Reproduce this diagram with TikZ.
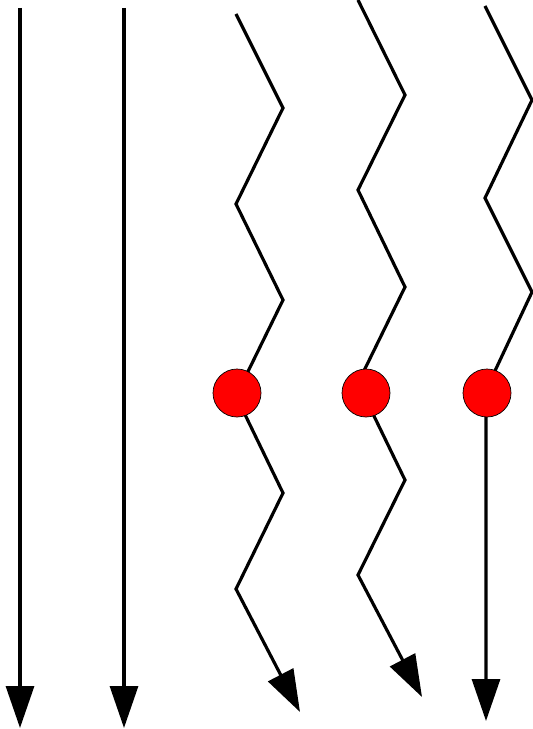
\documentclass[tikz,border=0pt]{standalone}
\usetikzlibrary{arrows.meta}

\tikzset{
    wline/.style={line width=1.8pt},
    warrow/.style={wline, -{Triangle[length=0.84cm,width=0.56cm]}},
    blob/.style={circle, fill=red, draw=black, line width=0.4pt, minimum size=0.96cm, inner sep=0pt},
}

\begin{document}
\begin{tikzpicture}[x=0.02cm,y=-0.02cm]
            \useasboundingbox (0,0) rectangle (532,729);

            \coordinate (a1) at (20,8);
            \coordinate (a2) at (20,728);

            \coordinate (b1) at (124,8);
            \coordinate (b2) at (124,728);

            \coordinate (p1) at (236,14);
            \coordinate (p2) at (283,108);
            \coordinate (p3) at (236,204);
            \coordinate (p4) at (283,300);
            \coordinate (p5) at (236,396);
            \coordinate (p6) at (283,493);
            \coordinate (p7) at (236,589);
            \coordinate (p8) at (300,712);

            \coordinate (q1) at (358,0);
            \coordinate (q2) at (405,95);
            \coordinate (q3) at (358,190);
            \coordinate (q4) at (405,287);
            \coordinate (q5) at (358,383);
            \coordinate (q6) at (405,480);
            \coordinate (q7) at (358,575);
            \coordinate (q8) at (422,697);

            \coordinate (r1) at (485,6);
            \coordinate (r2) at (532,100);
            \coordinate (r3) at (485,198);
            \coordinate (r4) at (532,292);
            \coordinate (r5) at (486,390);
            \coordinate (r6) at (486,721);

            \draw[warrow] (a1) -- (a2);
            \draw[warrow] (b1) -- (b2);
            \draw[warrow] (p1) -- (p2) -- (p3) -- (p4) -- (p5) -- (p6) -- (p7) -- (p8);
            \draw[warrow] (q1) -- (q2) -- (q3) -- (q4) -- (q5) -- (q6) -- (q7) -- (q8);
            \draw[warrow] (r1) -- (r2) -- (r3) -- (r4) -- (r5) -- (r6);

            \node[blob] (c1) at (237,393) {};
            \node[blob] (c2) at (366,393) {};
            \node[blob] (c3) at (487,393) {};
\end{tikzpicture}
\end{document}
